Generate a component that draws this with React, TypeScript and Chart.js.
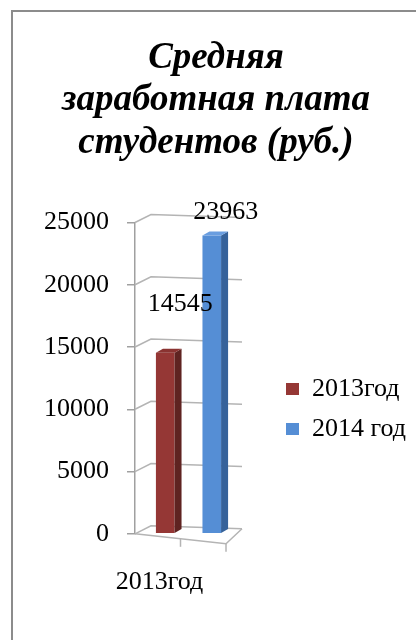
import { useEffect, useRef } from "react";
import { Chart, registerables } from "chart.js";

Chart.register(...registerables);

// ---- data ----
const categories = ["2013год"];
const seriesLabels = ["2013год", "2014 год"];
const values2013 = [14545];
const values2014 = [23963];
const yMin = 0;
const yMax = 25000;
const yStep = 5000;
const titleLines = ["Средняя", "заработная плата", "студентов (руб.)"];

// ---- style ----
const FONT = "'Liberation Serif', 'Times New Roman', serif";
const frontColors = ["#953735", "#558ED5"];
const sideColors = ["#5f2321", "#36629a"];
const topColors = ["#8a3331", "#6a9ee0"];
const valueLabelShift = [
  { dx: 15, dy: 49 },
  { dx: 14, dy: 23 },
];
const DEPTH_X = 7;
const DEPTH_Y = -4;
const WALL_DX = 16;
const WALL_DY = -8;
const WALL_SLOPE = 3;
const FLOOR_DROP = 10;
const GRID_COLOR = "#b4b4b4";

const depthPlugin = {
  id: "depth3d",
  beforeDatasetsDraw(chart: any) {
    const { ctx, chartArea, scales } = chart;
    const { left, right } = chartArea;
    const y = scales.y;
    ctx.save();
    ctx.strokeStyle = GRID_COLOR;
    ctx.lineWidth = 1.5;
    y.ticks.forEach((t: any) => {
      const py = y.getPixelForValue(t.value);
      ctx.beginPath();
      ctx.moveTo(left, py);
      ctx.lineTo(left + WALL_DX, py + WALL_DY);
      ctx.lineTo(right, py + WALL_DY + WALL_SLOPE);
      ctx.stroke();
    });
    const y0 = y.getPixelForValue(yMin);
    const frontRight = right - WALL_DX;
    ctx.beginPath();
    ctx.moveTo(left, y0);
    ctx.lineTo(frontRight, y0 + FLOOR_DROP);
    ctx.lineTo(right, y0 + WALL_DY + WALL_SLOPE);
    ctx.stroke();
    [0.5, 1].forEach((f) => {
      const px = left + (frontRight - left) * f;
      const py = y0 + FLOOR_DROP * f;
      ctx.beginPath();
      ctx.moveTo(px, py);
      ctx.lineTo(px, py + 8);
      ctx.stroke();
    });
    ctx.restore();
  },
  afterDatasetsDraw(chart: any) {
    const { ctx } = chart;
    ctx.save();
    chart.data.datasets.forEach((ds: any, i: number) => {
      const meta = chart.getDatasetMeta(i);
      meta.data.forEach((bar: any, j: number) => {
        const { x, y, base, width } = bar.getProps(["x", "y", "base", "width"], true);
        const l = x - width / 2;
        const r = x + width / 2;
        ctx.fillStyle = sideColors[i];
        ctx.beginPath();
        ctx.moveTo(r, y);
        ctx.lineTo(r + DEPTH_X, y + DEPTH_Y);
        ctx.lineTo(r + DEPTH_X, base + DEPTH_Y);
        ctx.lineTo(r, base);
        ctx.closePath();
        ctx.fill();
        ctx.fillStyle = topColors[i];
        ctx.beginPath();
        ctx.moveTo(l, y);
        ctx.lineTo(l + DEPTH_X, y + DEPTH_Y);
        ctx.lineTo(r + DEPTH_X, y + DEPTH_Y);
        ctx.lineTo(r, y);
        ctx.closePath();
        ctx.fill();
        const v = ds.data[j];
        ctx.fillStyle = "#000";
        ctx.font = `26px ${FONT}`;
        ctx.textAlign = "center";
        ctx.textBaseline = "middle";
        ctx.fillText(String(v), x + valueLabelShift[i].dx, y - valueLabelShift[i].dy);
      });
    });
    ctx.restore();
  },
};

export default function App() {
  const ref = useRef<HTMLCanvasElement | null>(null);
  useEffect(() => {
    if (!ref.current) return;
    const chart = new Chart(ref.current, {
      type: "bar",
      data: {
        labels: categories,
        datasets: [
          {
            label: seriesLabels[0],
            data: values2013,
            backgroundColor: frontColors[0],
            categoryPercentage: 0.87,
            barPercentage: 0.4,
          },
          {
            label: seriesLabels[1],
            data: values2014,
            backgroundColor: frontColors[1],
            categoryPercentage: 0.87,
            barPercentage: 0.4,
          },
        ],
      },
      options: {
        responsive: false,
        animation: false,
        layout: { padding: { left: 16, right: 0, top: 0, bottom: 9 } },
        scales: {
          x: {
            grid: { display: false, drawTicks: false },
            border: { display: false },
            ticks: {
              color: "#000",
              font: { family: FONT, size: 26 },
              padding: 33,
              labelOffset: -29,
              maxRotation: 0,
            },
          },
          y: {
            min: yMin,
            max: yMax,
            afterFit: (s: any) => {
              s.width = 119;
            },
            border: { display: true, color: "#a0a0a0", width: 1.5 },
            grid: {
              drawOnChartArea: false,
              drawTicks: true,
              tickLength: 8,
              tickColor: "#a0a0a0",
              lineWidth: 1.5,
            },
            ticks: {
              stepSize: yStep,
              color: "#000",
              font: { family: FONT, size: 26 },
              padding: 18,
              callback: (v: any) => String(v),
            },
          },
          y2: {
            position: "right",
            display: true,
            afterFit: (s: any) => {
              s.width = 30;
            },
            grid: { display: false },
            border: { display: false },
            ticks: { display: false },
          },
        },
        plugins: {
          title: {
            display: true,
            text: titleLines,
            color: "#000",
            font: { family: FONT, size: 37, weight: "bold", style: "italic", lineHeight: 1.149 },
            padding: { top: 37, bottom: 58 },
          },
          legend: {
            display: true,
            position: "right",
            align: "center",
            maxWidth: 200,
            title: { display: true, text: " ", font: { size: 10, lineHeight: 1 }, padding: { top: 177, bottom: 0 } },
            labels: {
              boxWidth: 13,
              boxHeight: 12,
              padding: 14,
              color: "#000",
              font: { family: FONT, size: 26 },
            },
          },
          tooltip: { enabled: false },
        },
      },
      plugins: [depthPlugin],
    });
    return () => chart.destroy();
  }, []);
  return (
    <div style={{ position: "absolute", left: 0, top: 0, width: 416, height: 640, background: "#fff", overflow: "hidden" }}>
      <div
        style={{
          position: "absolute",
          left: 11,
          top: 10,
          width: 420,
          height: 640,
          borderLeft: "2px solid #8c8c8c",
          borderTop: "2px solid #8c8c8c",
        }}
      />
      <canvas ref={ref} width={416} height={640} style={{ position: "absolute", left: 0, top: 0 }} />
    </div>
  );
}
